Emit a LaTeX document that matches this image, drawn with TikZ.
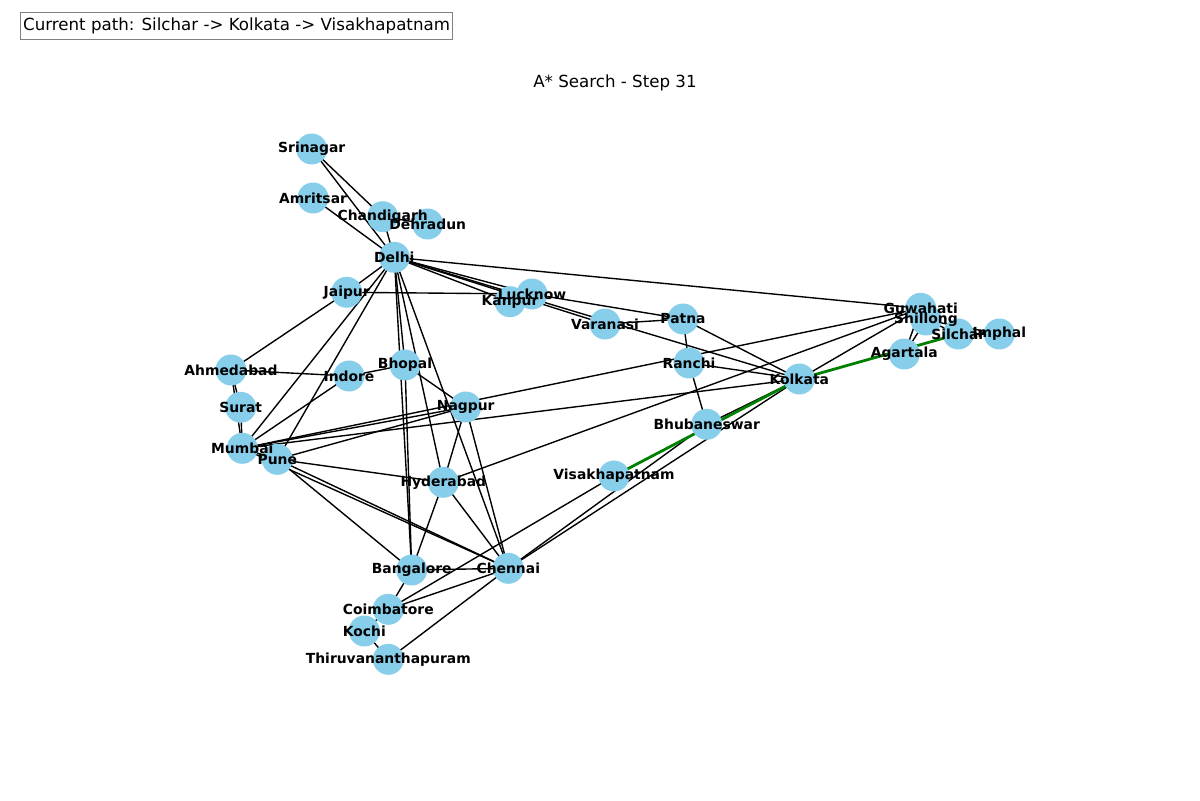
\documentclass[tikz,border=0pt]{standalone}
\usepackage{fontspec}
\setmainfont{DejaVu Sans}
\pgfdeclarelayer{bg}
\pgfsetlayers{bg,main}
\definecolor{nodeblue}{RGB}{135,206,235}
\definecolor{pathgreen}{RGB}{0,128,0}
\tikzset{
  city/.style={circle,fill=nodeblue,draw=none,minimum size=22.3pt,inner sep=0pt},
  citylabel/.style={inner sep=0pt,font=\fontsize{10}{12}\selectfont\bfseries},
  edge/.style={black,line width=1pt},
  pathedge/.style={pathgreen,line width=2pt},
}
\begin{document}
\begin{tikzpicture}[x=0.72pt,y=-0.72pt]
\useasboundingbox (0,0) rectangle (1200,800);
% nodes
\foreach \n/\px/\py in {
  Srinagar/311.7/149, Amritsar/313/198, Chandigarh/382.7/216.7, Dehradun/427.7/224,
  Delhi/394.3/257.3, Jaipur/346.7/292.3, Lucknow/532/294, Kanpur/510/301.7,
  Varanasi/605/324, Patna/683/319, Ranchi/689/363, Bhopal/405/365, Indore/349/376,
  Nagpur/465.7/407, Bhubaneswar/706.7/424.3, Visakhapatnam/614/476, Kolkata/799.3/379,
  Guwahati/920.7/308.3, Shillong/926/320, Silchar/958.3/334, Imphal/999.3/334,
  Agartala/904.3/354, Ahmedabad/231/370, Surat/240.7/407.3, Mumbai/242.3/448.3,
  Pune/277.3/459.3, Hyderabad/443.3/482.3, Bangalore/411.7/570, Chennai/508.3/568.3,
  Coimbatore/388.3/609.3, Kochi/364.3/631, Thiruvananthapuram/388.3/659.3}
{
  \node[city] (\n) at (\px,\py) {};
}
% edges
\begin{pgfonlayer}{bg}
\fill[white] (0,0) rectangle (1200,800);
\foreach \a/\b in {
  Srinagar/Chandigarh, Srinagar/Delhi, Amritsar/Delhi, Chandigarh/Delhi, Chandigarh/Dehradun,
  Delhi/Jaipur, Jaipur/Ahmedabad, Jaipur/Lucknow,
  Delhi/Lucknow, Delhi/Kanpur, Delhi/Varanasi, Delhi/Kolkata, Delhi/Guwahati,
  Delhi/Mumbai, Delhi/Pune, Delhi/Bhopal, Delhi/Bangalore, Delhi/Hyderabad, Delhi/Chennai,
  Lucknow/Kanpur, Lucknow/Patna, Varanasi/Patna, Patna/Ranchi, Patna/Kolkata,
  Ranchi/Kolkata, Ranchi/Bhubaneswar, Mumbai/Guwahati,
  Kolkata/Guwahati, Kolkata/Bhubaneswar, Kolkata/Chennai, Kolkata/Mumbai,
  Bhubaneswar/Chennai, Visakhapatnam/Coimbatore,
  Hyderabad/Guwahati, Guwahati/Shillong, Agartala/Shillong, Agartala/Guwahati,
  Shillong/Silchar, Shillong/Imphal, Silchar/Imphal,
  Ahmedabad/Indore, Ahmedabad/Surat, Ahmedabad/Mumbai, Surat/Mumbai,
  Indore/Bhopal, Indore/Mumbai, Bhopal/Nagpur, Bhopal/Bangalore,
  Mumbai/Pune, Mumbai/Nagpur, Pune/Nagpur, Mumbai/Chennai, Pune/Chennai,
  Pune/Hyderabad, Pune/Bangalore, Nagpur/Hyderabad, Nagpur/Chennai,
  Hyderabad/Bangalore, Hyderabad/Chennai, Bangalore/Chennai, Bangalore/Coimbatore,
  Coimbatore/Chennai, Coimbatore/Kochi, Kochi/Thiruvananthapuram, Thiruvananthapuram/Chennai}
{
  \draw[edge] (\a.center) -- (\b.center);
}
\draw[pathedge] (Silchar.center) -- (Kolkata.center);
\draw[pathedge] (Kolkata.center) -- (Visakhapatnam.center);
\end{pgfonlayer}
% labels
\foreach \n in {Srinagar, Amritsar, Chandigarh, Dehradun, Delhi, Jaipur, Lucknow, Kanpur,
  Varanasi, Patna, Ranchi, Bhopal, Indore, Nagpur, Bhubaneswar, Visakhapatnam, Kolkata,
  Guwahati, Shillong, Silchar, Imphal, Agartala, Ahmedabad, Surat, Mumbai, Pune,
  Hyderabad, Bangalore, Chennai, Coimbatore, Kochi, Thiruvananthapuram}
{
  \node[citylabel] (\n-l) at (\n.center) {\n};
}
% title and info box
\node[font=\fontsize{12}{14}\selectfont] (title) at (615,83) {A* Search - Step 31};
\node[draw=black!50,fill=white,line width=0.8pt,anchor=north west,minimum width=432*0.72pt,
  minimum height=27*0.72pt,inner sep=0pt,font=\fontsize{12}{14}\selectfont] (info) at (20,12)
  {Current path: Silchar -> Kolkata -> Visakhapatnam};
\end{tikzpicture}
\end{document}
